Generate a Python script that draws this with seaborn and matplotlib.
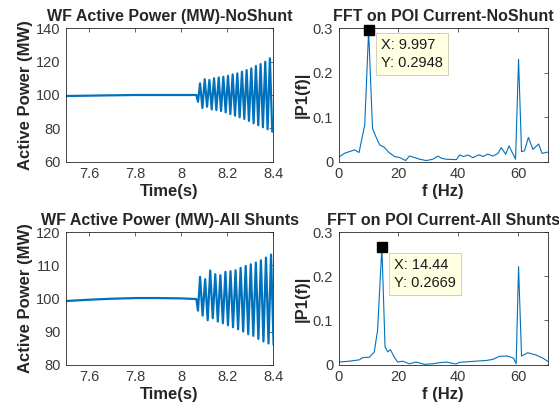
import numpy as np
import pandas as pd
import seaborn as sns
import matplotlib
matplotlib.use("Agg")
import matplotlib.pyplot as plt
from matplotlib.ticker import FormatStrFormatter

# ---- values ----
# flat part before the oscillation sets in
t_pre = [7.5, 7.6, 7.7, 7.8, 7.9, 8.0, 8.066]
p_pre_noshunt = [99.4, 99.6, 99.8, 100.0, 100.0, 100.0, 100.0]
p_pre_shunts = [99.2, 99.6, 99.9, 100.1, 100.1, 100.0, 99.8]

# first dip, then alternating peaks / troughs (MW)
dip_noshunt = 96.0
peaks_noshunt = [107, 109.4, 109, 110, 110.5, 110.9, 111.5, 112.3, 112.9, 113.9,
                 114.9, 115.9, 117.3, 118.5, 119.9, 121.9]
troughs_noshunt = [92.2, 93, 91.4, 91, 90.4, 89.6, 88.6, 87.6, 86.7, 85.7,
                   84.5, 83.1, 81.9, 80.7, 79.5, 78.1]
period_noshunt = 0.0202   # ~50 Hz power swing

dip_shunts = 96.3
peaks_shunts = [106.5, 105.8, 108.4, 107.3, 107, 108, 108.2, 108.5, 109.2, 109.8,
                110.3, 110.8, 111.5, 112.3, 113.2]
troughs_shunts = [94.8, 93.4, 94, 93, 92.5, 91.9, 91.3, 90.7, 90, 89.2,
                  88.7, 87.8, 87, 86.4, 86]
period_shunts = 0.022     # ~45.6 Hz power swing

t_dip = 8.073
t_first_peak = 8.082

# FFT magnitudes
f_noshunt = [0.3, 2, 5.35, 6.8, 8.7, 9.997, 11.3, 12.4, 13.7, 15.2, 16.8, 18.7, 20.4,
             22.4, 23.7, 25.4, 27.1, 29.3, 31.5, 33.2, 34.5, 36, 39.4, 40.5, 41.8, 43.3,
             44.9, 46.9, 48.3, 49.9, 51.6, 53.3, 54.4, 55.9, 57, 59.2, 60.2, 61.2, 62.2,
             63.5, 65, 66.9, 68.1, 70]
a_noshunt = [0.012, 0.0195, 0.027, 0.021, 0.083, 0.2948, 0.075, 0.057, 0.038, 0.033,
             0.021, 0.012, 0.0097, 0.003, 0.0134, 0.0097, 0.006, 0.003, 0.006, 0.013,
             0.008, 0.006, 0.005, 0.0155, 0.012, 0.0155, 0.0095, 0.016, 0.012, 0.0175,
             0.013, 0.019, 0.032, 0.017, 0.036, 0.006, 0.230, 0.023, 0.025, 0.055,
             0.028, 0.040, 0.019, 0.022]

f_shunts = [0.2, 3.6, 6.9, 8.0, 10.3, 11.9, 13.0, 14.44, 15.5, 16.4, 17.3, 18.6, 19.7,
            21.4, 23.6, 25.9, 28.7, 31.4, 33.8, 36, 39.3, 40.4, 44.9, 49.4, 51.6, 53.8,
            56.4, 58.5, 59.4, 60.2, 61.2, 63.3, 66, 68.3, 70]
a_shunts = [0.006, 0.008, 0.011, 0.016, 0.017, 0.029, 0.078, 0.2669, 0.04, 0.029,
            0.034, 0.017, 0.006, 0.008, 0.002, 0.006, 0.0008, 0.002, 0.0045, 0.006,
            0.0015, 0.0053, 0.0075, 0.0095, 0.012, 0.019, 0.0196, 0.015, 0.002, 0.222,
            0.0196, 0.027, 0.022, 0.015, 0.0075]

tip_noshunt = (9.997, 0.2948)
tip_shunts = (14.44, 0.2669)


def power_trace(pre, dip, peaks, troughs, period):
    # interleave peaks and troughs at the swing period
    t_pk = t_first_peak + period * np.arange(len(peaks))
    t_tr = t_first_peak + period / 2 + period * np.arange(len(troughs))
    osc = sorted(list(zip(t_pk, peaks)) + list(zip(t_tr, troughs)))
    t = list(t_pre) + [t_dip] + [o[0] for o in osc]
    p = list(pre) + [dip] + [o[1] for o in osc]
    return pd.DataFrame({"t": t, "p": p})


sns.set_style("white")
plt.rcParams["font.family"] = ["Liberation Sans", "DejaVu Sans"]

blue = "#0072BD"
edge = "#262626"
ticklab = "#3a3a3a"

fig = plt.figure(figsize=(5.59, 4.13), dpi=100)
ax1 = fig.add_axes([0.118, 0.608, 0.371, 0.324])
ax2 = fig.add_axes([0.606, 0.608, 0.374, 0.324])
ax3 = fig.add_axes([0.118, 0.117, 0.371, 0.321])
ax4 = fig.add_axes([0.606, 0.117, 0.374, 0.321])

df1 = power_trace(p_pre_noshunt, dip_noshunt, peaks_noshunt, troughs_noshunt, period_noshunt)
df3 = power_trace(p_pre_shunts, dip_shunts, peaks_shunts, troughs_shunts, period_shunts)

sns.lineplot(data=df1, x="t", y="p", ax=ax1, color=blue, lw=1.6, estimator=None, sort=False)
sns.lineplot(data=df3, x="t", y="p", ax=ax3, color=blue, lw=1.6, estimator=None, sort=False)
sns.lineplot(x=f_noshunt, y=a_noshunt, ax=ax2, color=blue, lw=0.8, estimator=None, sort=False)
sns.lineplot(x=f_shunts, y=a_shunts, ax=ax4, color=blue, lw=0.8, estimator=None, sort=False)

title_kw = dict(fontsize=11.5, fontweight="bold", pad=5)

for ax in (ax1, ax3):
    ax.set_xlim(7.5, 8.4)
    ax.set_xticks([7.6, 7.8, 8.0, 8.2, 8.4])
    ax.set_xlabel("Time(s)", fontsize=12, fontweight="bold", labelpad=2)
    ax.set_ylabel("Active Power (MW)", fontsize=12, fontweight="bold", labelpad=2)
ax1.set_ylim(60, 140)
ax1.set_yticks([60, 80, 100, 120, 140])
ax3.set_ylim(80, 120)
ax3.set_yticks([80, 90, 100, 110, 120])
ax1.set_title("WF Active Power (MW)-NoShunt", **title_kw)
ax3.set_title("WF Active Power (MW)-All Shunts", **title_kw)

for ax in (ax2, ax4):
    ax.set_xlim(0, 70)
    ax.set_xticks([0, 20, 40, 60])
    ax.set_ylim(0, 0.3)
    ax.set_yticks([0, 0.1, 0.2, 0.3])
    ax.set_xlabel("f (Hz)", fontsize=12, fontweight="bold", labelpad=2)
    ax.set_ylabel("|P1(f)|", fontsize=12, fontweight="bold", labelpad=2)
ax2.set_title("FFT on POI Current-NoShunt", **title_kw)
ax4.set_title("FFT on POI Current-All Shunts", **title_kw)

for ax in (ax1, ax2, ax3, ax4):
    ax.xaxis.set_major_formatter(FormatStrFormatter("%g"))
    ax.yaxis.set_major_formatter(FormatStrFormatter("%g"))
    ax.tick_params(direction="in", top=True, right=True, length=3, width=0.5,
                   color=edge, labelcolor=ticklab, labelsize=10.5, pad=4)
    for s in ax.spines.values():
        s.set_color(edge)
        s.set_linewidth(0.6)

# data tips
for ax, tip, txt_xy in ((ax2, tip_noshunt, (14.3, 0.278)), (ax4, tip_shunts, (18.6, 0.242))):
    ax.plot([tip[0]], [tip[1]], marker="s", ms=7.5, color="black", clip_on=False, zorder=5)
    ax.text(txt_xy[0], txt_xy[1], f"X: {tip[0]:g}\nY: {tip[1]:g}", fontsize=10.5,
            va="top", ha="left", linespacing=1.35, color="#1a1a1a",
            bbox=dict(boxstyle="square,pad=0.35", fc="#FFFFE1", ec="#C8C8B4", lw=0.6))

fig.savefig("out.png", dpi=100)
